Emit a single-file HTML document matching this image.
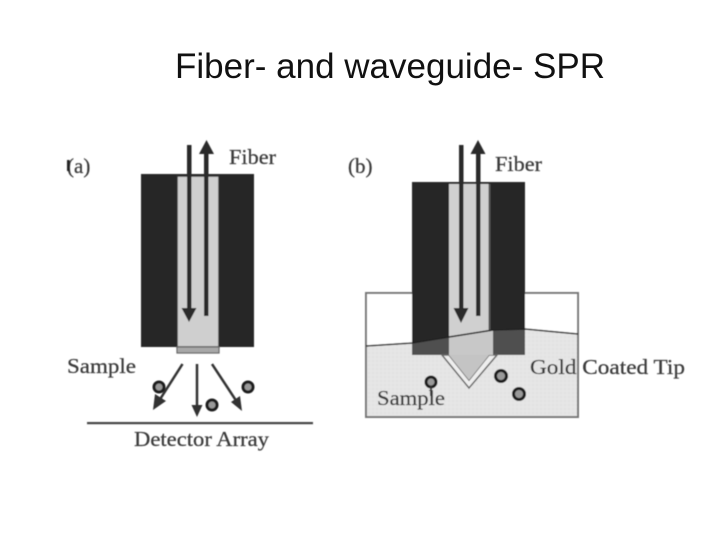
<!DOCTYPE html>
<html><head><meta charset="utf-8"><style>
html,body{margin:0;padding:0;background:#fff;width:720px;height:540px;overflow:hidden}
svg{display:block}
.s{font-family:"Liberation Serif",serif;fill:#3a3a3a;stroke:#3a3a3a;stroke-width:.25}
</style></head><body>
<svg width="720" height="540" viewBox="0 0 720 540" xmlns="http://www.w3.org/2000/svg">
<defs><filter id="b" x="-5%" y="-5%" width="110%" height="110%"><feGaussianBlur stdDeviation="0.5"/></filter>
<pattern id="d" width="4" height="4" patternUnits="userSpaceOnUse"><rect width="4" height="4" fill="#e6e6e6"/><rect width="2" height="2" fill="#e0e0e0"/></pattern></defs>
<text x="175" y="78" font-family="Liberation Sans, sans-serif" font-size="35" fill="#111" textLength="430" lengthAdjust="spacingAndGlyphs">Fiber- and waveguide- SPR</text>
<g filter="url(#b)">
<!-- (a) -->
<rect x="141" y="174" width="113" height="173" fill="#262626"/>
<rect x="177" y="176" width="42" height="171" fill="#cfcfcf" stroke="#333" stroke-width="1.500"/>
<rect x="177" y="347" width="42" height="6" fill="#a8a8a8" stroke="#666" stroke-width="1.200"/>
<rect x="187" y="145" width="4.500" height="165" fill="#2a2a2a"/>
<polygon points="181.500,308 196.500,308 189,322" fill="#2a2a2a"/>
<rect x="204" y="150" width="4.500" height="166" fill="#2a2a2a"/>
<polygon points="199,154 214,154 206.500,140" fill="#2a2a2a"/>
<line x1="182.500" y1="364" x2="157" y2="404" stroke="#333" stroke-width="2.500"/>
<polygon points="153,410 155,394 166,401" fill="#333"/>
<line x1="197" y1="364" x2="197" y2="406" stroke="#333" stroke-width="2.500"/>
<polygon points="191.500,405 202.500,405 197,417" fill="#333"/>
<line x1="212" y1="364" x2="239" y2="405" stroke="#333" stroke-width="2.500"/>
<polygon points="242,411 231,402 240,396" fill="#333"/>
<g fill="#999" stroke="#1c1c1c" stroke-width="3">
<circle cx="159" cy="387" r="5"/><circle cx="212" cy="405" r="5"/><circle cx="248" cy="387" r="5"/>
</g>
<rect x="87" y="422" width="226" height="2.200" fill="#444"/>
<text class="s" x="67" y="173" font-size="21">(a)</text>
<rect x="67" y="160" width="2.500" height="11" fill="#222"/>
<text class="s" x="229" y="164" font-size="21" textLength="47" lengthAdjust="spacingAndGlyphs">Fiber</text>
<text class="s" x="67" y="373" font-size="21" textLength="69" lengthAdjust="spacingAndGlyphs">Sample</text>
<text class="s" x="134" y="446" font-size="21" textLength="135" lengthAdjust="spacingAndGlyphs">Detector Array</text>
<!-- (b) -->
<rect x="366" y="293" width="212" height="124" fill="#fff" stroke="#777" stroke-width="2"/>
<path d="M367 346 L412 343 L449 337 L493 330 L525 329 L577 334 V416 H367 Z" fill="url(#d)"/>
<rect x="412" y="182" width="113" height="173" fill="#262626"/>
<rect x="449" y="184" width="40" height="171" fill="#d0d0d0"/>
<rect x="488.500" y="184" width="2" height="171" fill="#555"/>
<path d="M412 343 L449 337 V355 H412 Z" fill="#505050"/>
<path d="M489 332 L493 330 L525 329 V355 H489 Z" fill="#505050"/>
<path d="M442 355 L469 388 L497 355 H489 L469 380 L449 355 Z" fill="#eee" stroke="#666" stroke-width="1.500"/>
<path d="M449 355 L469 380 L489 355 Z" fill="#c4c4c4"/>
<path d="M449 337 L493 330 V355 H449 Z" fill="#c8c8c8"/>
<path d="M366 346 L412 343 L449 337 L493 330 L525 329 L578 334" fill="none" stroke="#222" stroke-width="1.500"/>
<rect x="459" y="145" width="4.500" height="165" fill="#2a2a2a"/>
<polygon points="453.500,308 468.500,308 461,323" fill="#2a2a2a"/>
<rect x="476" y="150" width="4.500" height="166" fill="#2a2a2a"/>
<polygon points="470.500,154 485.500,154 478,140" fill="#2a2a2a"/>
<g fill="#999" stroke="#1c1c1c" stroke-width="3">
<circle cx="431" cy="382" r="5"/><circle cx="501" cy="376" r="5.500"/><circle cx="519" cy="394" r="5.500"/>
</g>
<rect x="430" y="386" width="2" height="10" fill="#333"/>
<text class="s" x="348" y="173" font-size="21">(b)</text>
<text class="s" x="495" y="171" font-size="21" textLength="47" lengthAdjust="spacingAndGlyphs">Fiber</text>
<text class="s" x="530" y="374" font-size="21" textLength="155" lengthAdjust="spacingAndGlyphs">Gold Coated Tip</text>
<text class="s" x="377" y="405" font-size="21" textLength="68" lengthAdjust="spacingAndGlyphs">Sample</text>
</g>
</svg>
</body></html>
